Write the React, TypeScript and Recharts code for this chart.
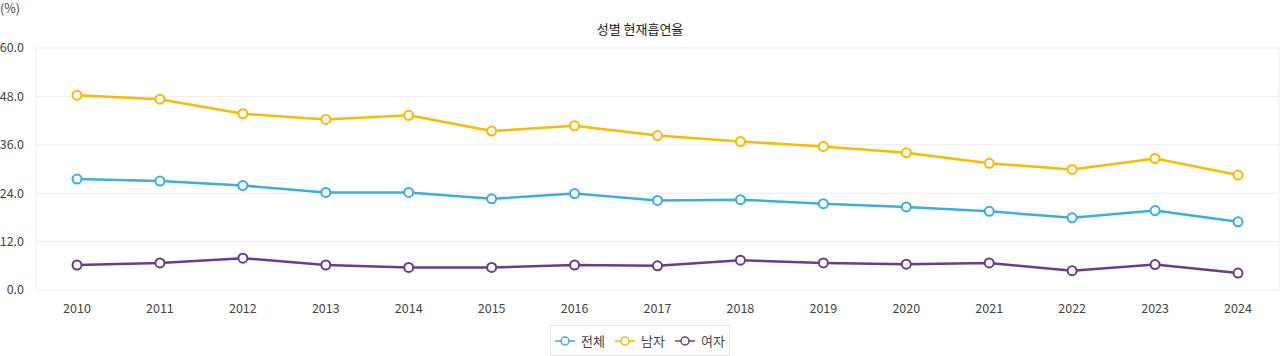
import React from "react"
import { LineChart, Line, XAxis, YAxis, CartesianGrid } from "recharts"

const years = ["2010", "2011", "2012", "2013", "2014", "2015", "2016", "2017", "2018", "2019", "2020", "2021", "2022", "2023", "2024"]
const total = [27.5, 27.0, 25.9, 24.2, 24.2, 22.6, 23.9, 22.2, 22.4, 21.4, 20.6, 19.5, 17.9, 19.7, 16.9]
const male = [48.3, 47.3, 43.7, 42.3, 43.3, 39.4, 40.7, 38.3, 36.8, 35.6, 34.0, 31.4, 29.9, 32.6, 28.5]
const female = [6.2, 6.7, 7.9, 6.2, 5.6, 5.6, 6.2, 6.0, 7.4, 6.7, 6.4, 6.7, 4.8, 6.3, 4.2]
const yTicks = [0, 12, 24, 36, 48, 60]

const SERIES = [
  { key: "total", name: "전체", color: "#3aaee2" },
  { key: "male", name: "남자", color: "#fbb900" },
  { key: "female", name: "여자", color: "#6c3b8a" },
]

const data = years.map((y, i) => ({ year: y, total: total[i], male: male[i], female: female[i] }))

const FONT = "'Noto Sans CJK KR', 'Noto Sans', sans-serif"

export default function App() {
  return (
    <div style={{ position: "absolute", left: 0, top: 0, width: 1280, height: 356, fontFamily: FONT, background: "#fff" }}>
      <style>{"body{margin:0}"}</style>
      <div style={{ position: "absolute", left: 0, top: -2, fontSize: 12.5, color: "#444" }}>(%)</div>
      <div style={{ position: "absolute", left: 0, width: 1280, top: 19, textAlign: "center", fontSize: 13, color: "#222" }}>
        성별 현재흡연율
      </div>
      <LineChart width={1280} height={356} data={data} margin={{ top: 48, right: 1, left: 0, bottom: 36 }}>
        <CartesianGrid
          stroke="#ececec"
          verticalCoordinatesGenerator={({ offset }: any) => [offset.left, offset.left + offset.width]}
        />
        <XAxis
          dataKey="year"
          padding={{ left: 41, right: 41 }}
          axisLine={false}
          tickLine={false}
          tick={{ fontSize: 12.5, fill: "#444", fontFamily: FONT }}
          tickMargin={8}
          interval={0}
          height={30}
        />
        <YAxis
          domain={[0, 60]}
          ticks={yTicks}
          width={36}
          axisLine={false}
          tickLine={false}
          tick={{ fontSize: 12.5, fill: "#444", fontFamily: FONT }}
          tickFormatter={v => (v as number).toFixed(1)}
          tickMargin={6}
        />
        {SERIES.map(s => (
          <Line
            key={s.key}
            type="linear"
            dataKey={s.key}
            name={s.name}
            stroke={s.color}
            strokeWidth={2.5}
            dot={{ r: 4.5, fill: "#fff", stroke: s.color, strokeWidth: 2 }}
            isAnimationActive={false}
          />
        ))}
      </LineChart>
      <div
        style={{
          position: "absolute",
          left: 550,
          top: 325,
          width: 178,
          height: 29,
          border: "1px solid #e4e4e4",
          display: "flex",
          alignItems: "center",
          justifyContent: "center",
          gap: 10,
          fontSize: 13,
          color: "#444",
        }}
      >
        {SERIES.map(s => (
          <div key={s.key} style={{ display: "flex", alignItems: "center", gap: 6 }}>
            <svg width={20} height={12}>
              <line x1={0} y1={6} x2={20} y2={6} stroke={s.color} strokeWidth={1.5} />
              <circle cx={10} cy={6} r={4} fill="#fff" stroke={s.color} strokeWidth={1.5} />
            </svg>
            <span>{s.name}</span>
          </div>
        ))}
      </div>
    </div>
  )
}
